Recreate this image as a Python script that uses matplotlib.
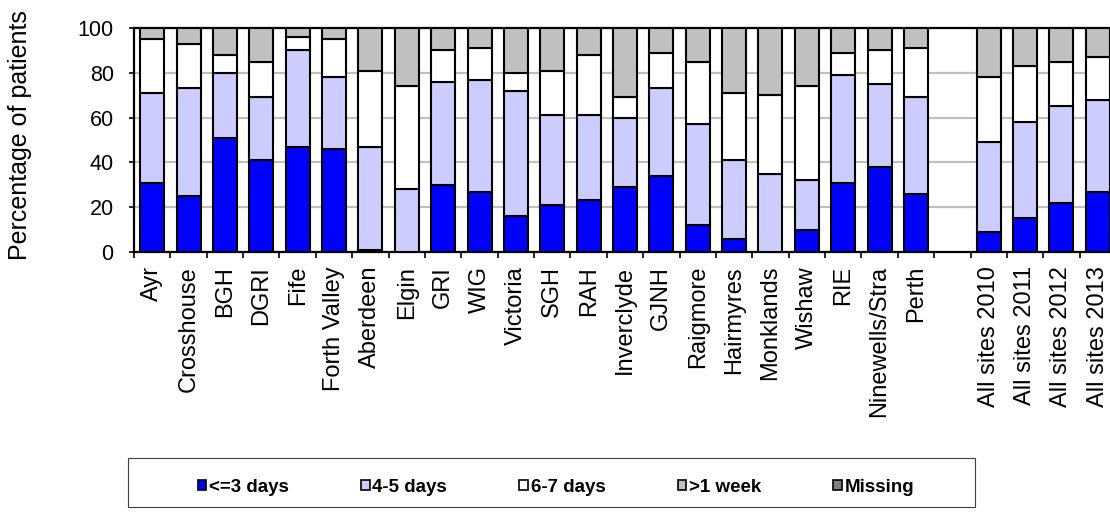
import numpy as np
import matplotlib
matplotlib.use("Agg")
import matplotlib.pyplot as plt
from matplotlib.patches import Patch, Rectangle

plt.rcParams['font.family'] = ['Liberation Sans', 'DejaVu Sans']

# Sites (blank slot separates the all-site years)
sites = ["Ayr", "Crosshouse", "BGH", "DGRI", "Fife", "Forth Valley", "Aberdeen",
         "Elgin", "GRI", "WIG", "Victoria", "SGH", "RAH", "Inverclyde", "GJNH",
         "Raigmore", "Hairmyres", "Monklands", "Wishaw", "RIE", "Ninewells/Stra",
         "Perth", "", "All sites 2010", "All sites 2011", "All sites 2012",
         "All sites 2013"]

# Percentage of patients in each band
le3_days = [31, 25, 51, 41, 47, 46, 1, 0, 30, 27, 16, 21, 23, 29, 34, 12, 6, 0,
            10, 31, 38, 26, np.nan, 9, 15, 22, 27]
d4_5_days = [40, 48, 29, 28, 43, 32, 46, 28, 46, 50, 56, 40, 38, 31, 39, 45, 35,
             35, 22, 48, 37, 43, np.nan, 40, 43, 43, 41]
d6_7_days = [24, 20, 8, 16, 6, 17, 34, 46, 14, 14, 8, 20, 27, 9, 16, 28, 30, 35,
             42, 10, 15, 22, np.nan, 29, 25, 20, 19]
over_week = [5, 7, 12, 15, 4, 5, 19, 26, 10, 9, 20, 19, 12, 31, 11, 15, 29, 30,
             26, 11, 10, 9, np.nan, 22, 17, 15, 13]
missing = [0, 0, 0, 0, 0, 0, 0, 0, 0, 0, 0, 0, 0, 0, 0, 0, 0, 0,
           0, 0, 0, 0, np.nan, 0, 0, 0, 0]

series = [("<=3 days", le3_days, "#0000FF"),
          ("4-5 days", d4_5_days, "#CCCCFF"),
          ("6-7 days", d6_7_days, "#FFFFFF"),
          (">1 week", over_week, "#C0C0C0"),
          ("Missing", missing, "#808080")]

fig = plt.figure(figsize=(11.1, 5.13), dpi=100)
ax = fig.add_axes([134 / 1110, 261 / 513, 982 / 1110, 224 / 513])

x = np.arange(len(sites))
bottom = np.zeros(len(sites))
handles = []
for name, vals, col in series:
    v = np.array(vals, dtype=float)
    mask = ~np.isnan(v) & (v > 0)
    ax.bar(x[mask], v[mask], bottom=bottom[mask], width=0.66, color=col,
           edgecolor="black", linewidth=1.5, zorder=3)
    bottom = bottom + np.nan_to_num(v)
    handles.append(Patch(facecolor=col, edgecolor="black", linewidth=1.2, label=name))

ax.set_xlim(-0.5, len(sites) - 0.5)
ax.set_ylim(0, 100)
ax.set_yticks([0, 20, 40, 60, 80, 100])
ax.yaxis.grid(True, color="#C0C0C0", linewidth=1.6, zorder=0)
ax.set_axisbelow(True)

ax.set_xticks(x)
ax.set_xticklabels(sites, rotation=90, ha="center", va="top")
ax.set_xticks(np.arange(len(sites) + 1) - 0.5, minor=True)
ax.tick_params(axis="x", which="major", length=0, pad=10, labelsize=17)
ax.tick_params(axis="x", which="minor", length=4.5, width=1.2, direction="out")
ax.tick_params(axis="y", length=3.6, width=1.2, pad=11, labelsize=15.5)

for s in ax.spines.values():
    s.set_linewidth(1.6)
    s.set_color("black")

fig.text(20 / 1110, 1 - 135 / 513, "Percentage of patients", rotation=90,
         ha="center", va="center", fontsize=18)

# legend frame
fig.patches.append(Rectangle((128 / 1110, 6 / 513), 847 / 1110, 49 / 513,
                             transform=fig.transFigure, fill=False,
                             edgecolor="#404040", linewidth=0.8))
fig.legend(handles=handles, loc="center", bbox_to_anchor=(556 / 1110, 1 - 487 / 513),
           ncol=5, frameon=False, prop={"weight": "bold", "size": 13.5},
           handlelength=0.45, handleheight=0.45, handletextpad=0.15,
           columnspacing=3.85)

fig.savefig("out.png", dpi=100)
